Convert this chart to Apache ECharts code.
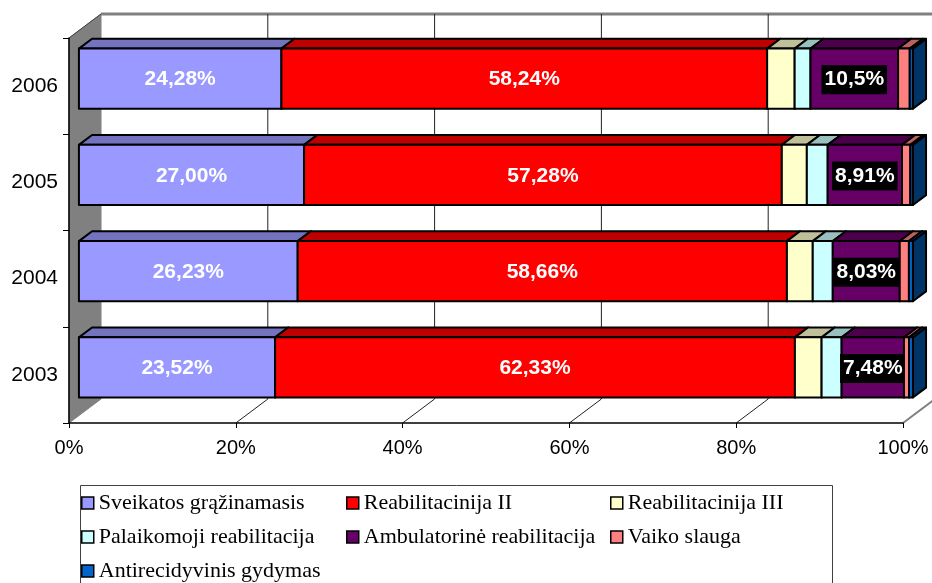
<!DOCTYPE html>
<html>
<head>
<meta charset="utf-8">
<script src="https://cdn.jsdelivr.net/npm/echarts@6/dist/echarts.min.js"></script>
<style>
  html, body { margin: 0; padding: 0; background: #ffffff; }
  #chart { width: 932px; height: 583px; }
</style>
</head>
<body>
<div id="chart"></div>
<script>
// Years on the category axis (bottom to top)
const years = ['2003', '2004', '2005', '2006'];

// Share of each rehabilitation type per year, in percent
const sveikatos = [23.52, 26.23, 27.00, 24.28];
const reabilitacinijaII = [62.33, 58.66, 57.28, 58.24];
const reabilitacinijaIII = [3.2, 3.1, 3.0, 3.3];
const palaikomoji = [2.4, 2.4, 2.5, 1.9];
const ambulatorine = [7.48, 8.03, 8.91, 10.5];
const vaikoSlauga = [0.6, 1.1, 1.0, 1.4];
const antirecidyvinis = [0.47, 0.48, 0.31, 0.38];

const seriesNames = [
  'Sveikatos grąžinamasis',
  'Reabilitacinija II',
  'Reabilitacinija III',
  'Palaikomoji reabilitacija',
  'Ambulatorinė reabilitacija',
  'Vaiko slauga',
  'Antirecidyvinis gydymas'
];
const seriesValues = [
  sveikatos, reabilitacinijaII, reabilitacinijaIII, palaikomoji,
  ambulatorine, vaikoSlauga, antirecidyvinis
];

// Percent axis ticks
const xTicks = [0, 20, 40, 60, 80, 100];

// Face colours: front, top, side
const palette = [
  { front: '#9999FF', top: '#7373BF', side: '#4D4D80' },
  { front: '#FF0000', top: '#BF0000', side: '#800000' },
  { front: '#FFFFCC', top: '#BFBF99', side: '#808066' },
  { front: '#CCFFFF', top: '#99BFBF', side: '#668080' },
  { front: '#660066', top: '#4C004C', side: '#330033' },
  { front: '#FF8080', top: '#BF6060', side: '#804040' },
  { front: '#0066CC', top: '#004C99', side: '#003366' }
];

// Label formatting per series (null = no label)
const labelFormat = [
  v => v.toFixed(2).replace('.', ',') + '%',
  v => v.toFixed(2).replace('.', ',') + '%',
  null,
  null,
  v => String(v).replace('.', ',') + '%',
  null,
  null
];
const labelBoxed = [false, false, false, false, true, false, false];

// 3D projection of the chart box (depth direction)
const DEPTH_X = 32, DEPTH_Y = -24;
// Bars sit part way into the depth and have their own thickness
const BAR_OFFSET = 0.31, BAR_DEPTH = 0.41, BAR_HEIGHT = 0.625;

// Stacked start/end for every segment
const starts = years.map(() => 0);
const stacked = seriesValues.map(vals => vals.map((v, i) => {
  const s = starts[i];
  starts[i] += v;
  return [s, s + v, i, v];
}));

function makeBarRenderer(si) {
  return function (params, api) {
    const s = api.value(0), e = api.value(1), c = api.value(2), v = api.value(3);
    const p0 = api.coord([s, c]);
    const p1 = api.coord([e, c]);
    const band = api.size([0, 1])[1];
    const h = band * BAR_HEIGHT;
    const ox = DEPTH_X * BAR_OFFSET, oy = DEPTH_Y * BAR_OFFSET;
    const dx = DEPTH_X * BAR_DEPTH, dy = DEPTH_Y * BAR_DEPTH;
    const x0 = p0[0] + ox, x1 = p1[0] + ox;
    const yc = p0[1] + oy;
    const yT = yc - h / 2, yB = yc + h / 2;
    const col = palette[si];
    const stroke = { stroke: '#000', lineWidth: 2, lineJoin: 'round' };
    const children = [
      {
        type: 'polygon',
        shape: { points: [[x1, yT], [x1 + dx, yT + dy], [x1 + dx, yB + dy], [x1, yB]] },
        style: Object.assign({ fill: col.side }, stroke)
      },
      {
        type: 'polygon',
        shape: { points: [[x0, yT], [x0 + dx, yT + dy], [x1 + dx, yT + dy], [x1, yT]] },
        style: Object.assign({ fill: col.top }, stroke)
      },
      {
        type: 'rect',
        shape: { x: x0, y: yT, width: x1 - x0, height: h },
        style: Object.assign({ fill: col.front }, stroke)
      }
    ];
    const fmt = labelFormat[si];
    if (fmt) {
      const txtStyle = {
        text: fmt(v),
        x: (x0 + x1) / 2,
        y: yc + 1,
        align: 'center',
        verticalAlign: 'middle',
        fill: '#ffffff',
        font: 'bold 21px "Liberation Sans", Arial, sans-serif'
      };
      if (labelBoxed[si]) {
        txtStyle.backgroundColor = '#000000';
        txtStyle.padding = [5, 3, 3, 3];
      }
      children.push({ type: 'text', style: txtStyle });
    }
    return { type: 'group', children: children };
  };
}

// Walls, floor and gridlines of the 3D box
function renderFrame(params, api) {
  const cs = params.coordSys;
  const left = cs.x, top = cs.y, bottom = cs.y + cs.height, right = cs.x + cs.width;
  const children = [];
  children.push({
    type: 'polygon',
    shape: { points: [[left, bottom], [right, bottom], [right + DEPTH_X, bottom + DEPTH_Y], [left + DEPTH_X, bottom + DEPTH_Y]] },
    style: { fill: '#ffffff' }
  });
  children.push({
    type: 'polygon',
    shape: { points: [[left, top], [left + DEPTH_X, top + DEPTH_Y], [left + DEPTH_X, bottom + DEPTH_Y], [left, bottom]] },
    style: { fill: '#808080', stroke: '#808080', lineWidth: 1 }
  });
  children.push({
    type: 'line',
    shape: { x1: left + DEPTH_X, y1: top + DEPTH_Y, x2: right + DEPTH_X, y2: top + DEPTH_Y },
    style: { stroke: '#808080', lineWidth: 3 }
  });
  children.push({
    type: 'line',
    shape: { x1: left, y1: top, x2: left + DEPTH_X, y2: top + DEPTH_Y },
    style: { stroke: '#404040', lineWidth: 1 }
  });
  children.push({
    type: 'line',
    shape: { x1: right, y1: bottom, x2: right + DEPTH_X, y2: bottom + DEPTH_Y },
    style: { stroke: '#808080', lineWidth: 2 }
  });
  xTicks.forEach(t => {
    if (t === 0) return;
    const x = api.coord([t, 0])[0];
    children.push({
      type: 'line',
      shape: { x1: x + DEPTH_X, y1: top + DEPTH_Y, x2: x + DEPTH_X, y2: bottom + DEPTH_Y },
      style: { stroke: '#222', lineWidth: 1 }
    });
    if (t < 100) {
      children.push({
        type: 'line',
        shape: { x1: x, y1: bottom, x2: x + DEPTH_X, y2: bottom + DEPTH_Y },
        style: { stroke: '#222', lineWidth: 1 }
      });
    }
  });
  return { type: 'group', children: children };
}

const series = [{
  type: 'custom',
  name: '__frame',
  renderItem: renderFrame,
  data: [[0, 0]],
  clip: false,
  silent: true,
  z: 1
}];
seriesNames.forEach((name, si) => {
  series.push({
    type: 'custom',
    name: name,
    renderItem: makeBarRenderer(si),
    data: stacked[si],
    encode: { x: [0, 1], y: 2 },
    itemStyle: { color: palette[si].front, borderColor: '#000', borderWidth: 1.5 },
    clip: false,
    z: 2 + si
  });
});

const legendText = {
  fontSize: 22,
  lineHeight: 22,
  fontFamily: '"Liberation Serif", "Times New Roman", serif',
  color: '#000'
};
function legendColumn(left, names) {
  return {
    orient: 'vertical',
    left: left,
    top: 492,
    icon: 'rect',
    itemWidth: 12,
    itemHeight: 12,
    itemGap: 12,
    padding: 0,
    data: names,
    selectedMode: false,
    textStyle: legendText,
    itemStyle: { borderColor: '#000', borderWidth: 1.5 }
  };
}

const chart = echarts.init(document.getElementById('chart'), null, { renderer: 'canvas' });
chart.setOption({
  animation: false,
  backgroundColor: '#ffffff',
  grid: { left: 69, right: 29, top: 38, bottom: 160 },
  xAxis: {
    type: 'value',
    min: 0,
    max: 100,
    interval: 20,
    z: 10,
    axisLine: { show: true, lineStyle: { color: '#000', width: 1.5 } },
    axisTick: { show: true, length: 5, lineStyle: { color: '#000' } },
    splitLine: { show: false },
    axisLabel: {
      formatter: '{value}%',
      fontSize: 20,
      fontFamily: '"Liberation Sans", Arial, sans-serif',
      color: '#000',
      margin: 15
    }
  },
  yAxis: {
    type: 'category',
    data: years,
    z: 10,
    axisLine: { show: true, lineStyle: { color: '#000', width: 1.5 } },
    axisTick: { show: true, length: 6, lineStyle: { color: '#000' } },
    splitLine: { show: false },
    axisLabel: {
      fontSize: 21,
      fontFamily: '"Liberation Sans", Arial, sans-serif',
      color: '#000',
      margin: 11
    }
  },
  legend: [
    legendColumn(81, [seriesNames[0], seriesNames[3], seriesNames[6]]),
    legendColumn(346, [seriesNames[1], seriesNames[4]]),
    legendColumn(610, [seriesNames[2], seriesNames[5]])
  ],
  graphic: [{
    type: 'rect',
    left: 78,
    top: 483,
    shape: { width: 752, height: 120 },
    style: { fill: 'none', stroke: '#404040', lineWidth: 1 },
    silent: true
  }],
  series: series
});
</script>
</body>
</html>
